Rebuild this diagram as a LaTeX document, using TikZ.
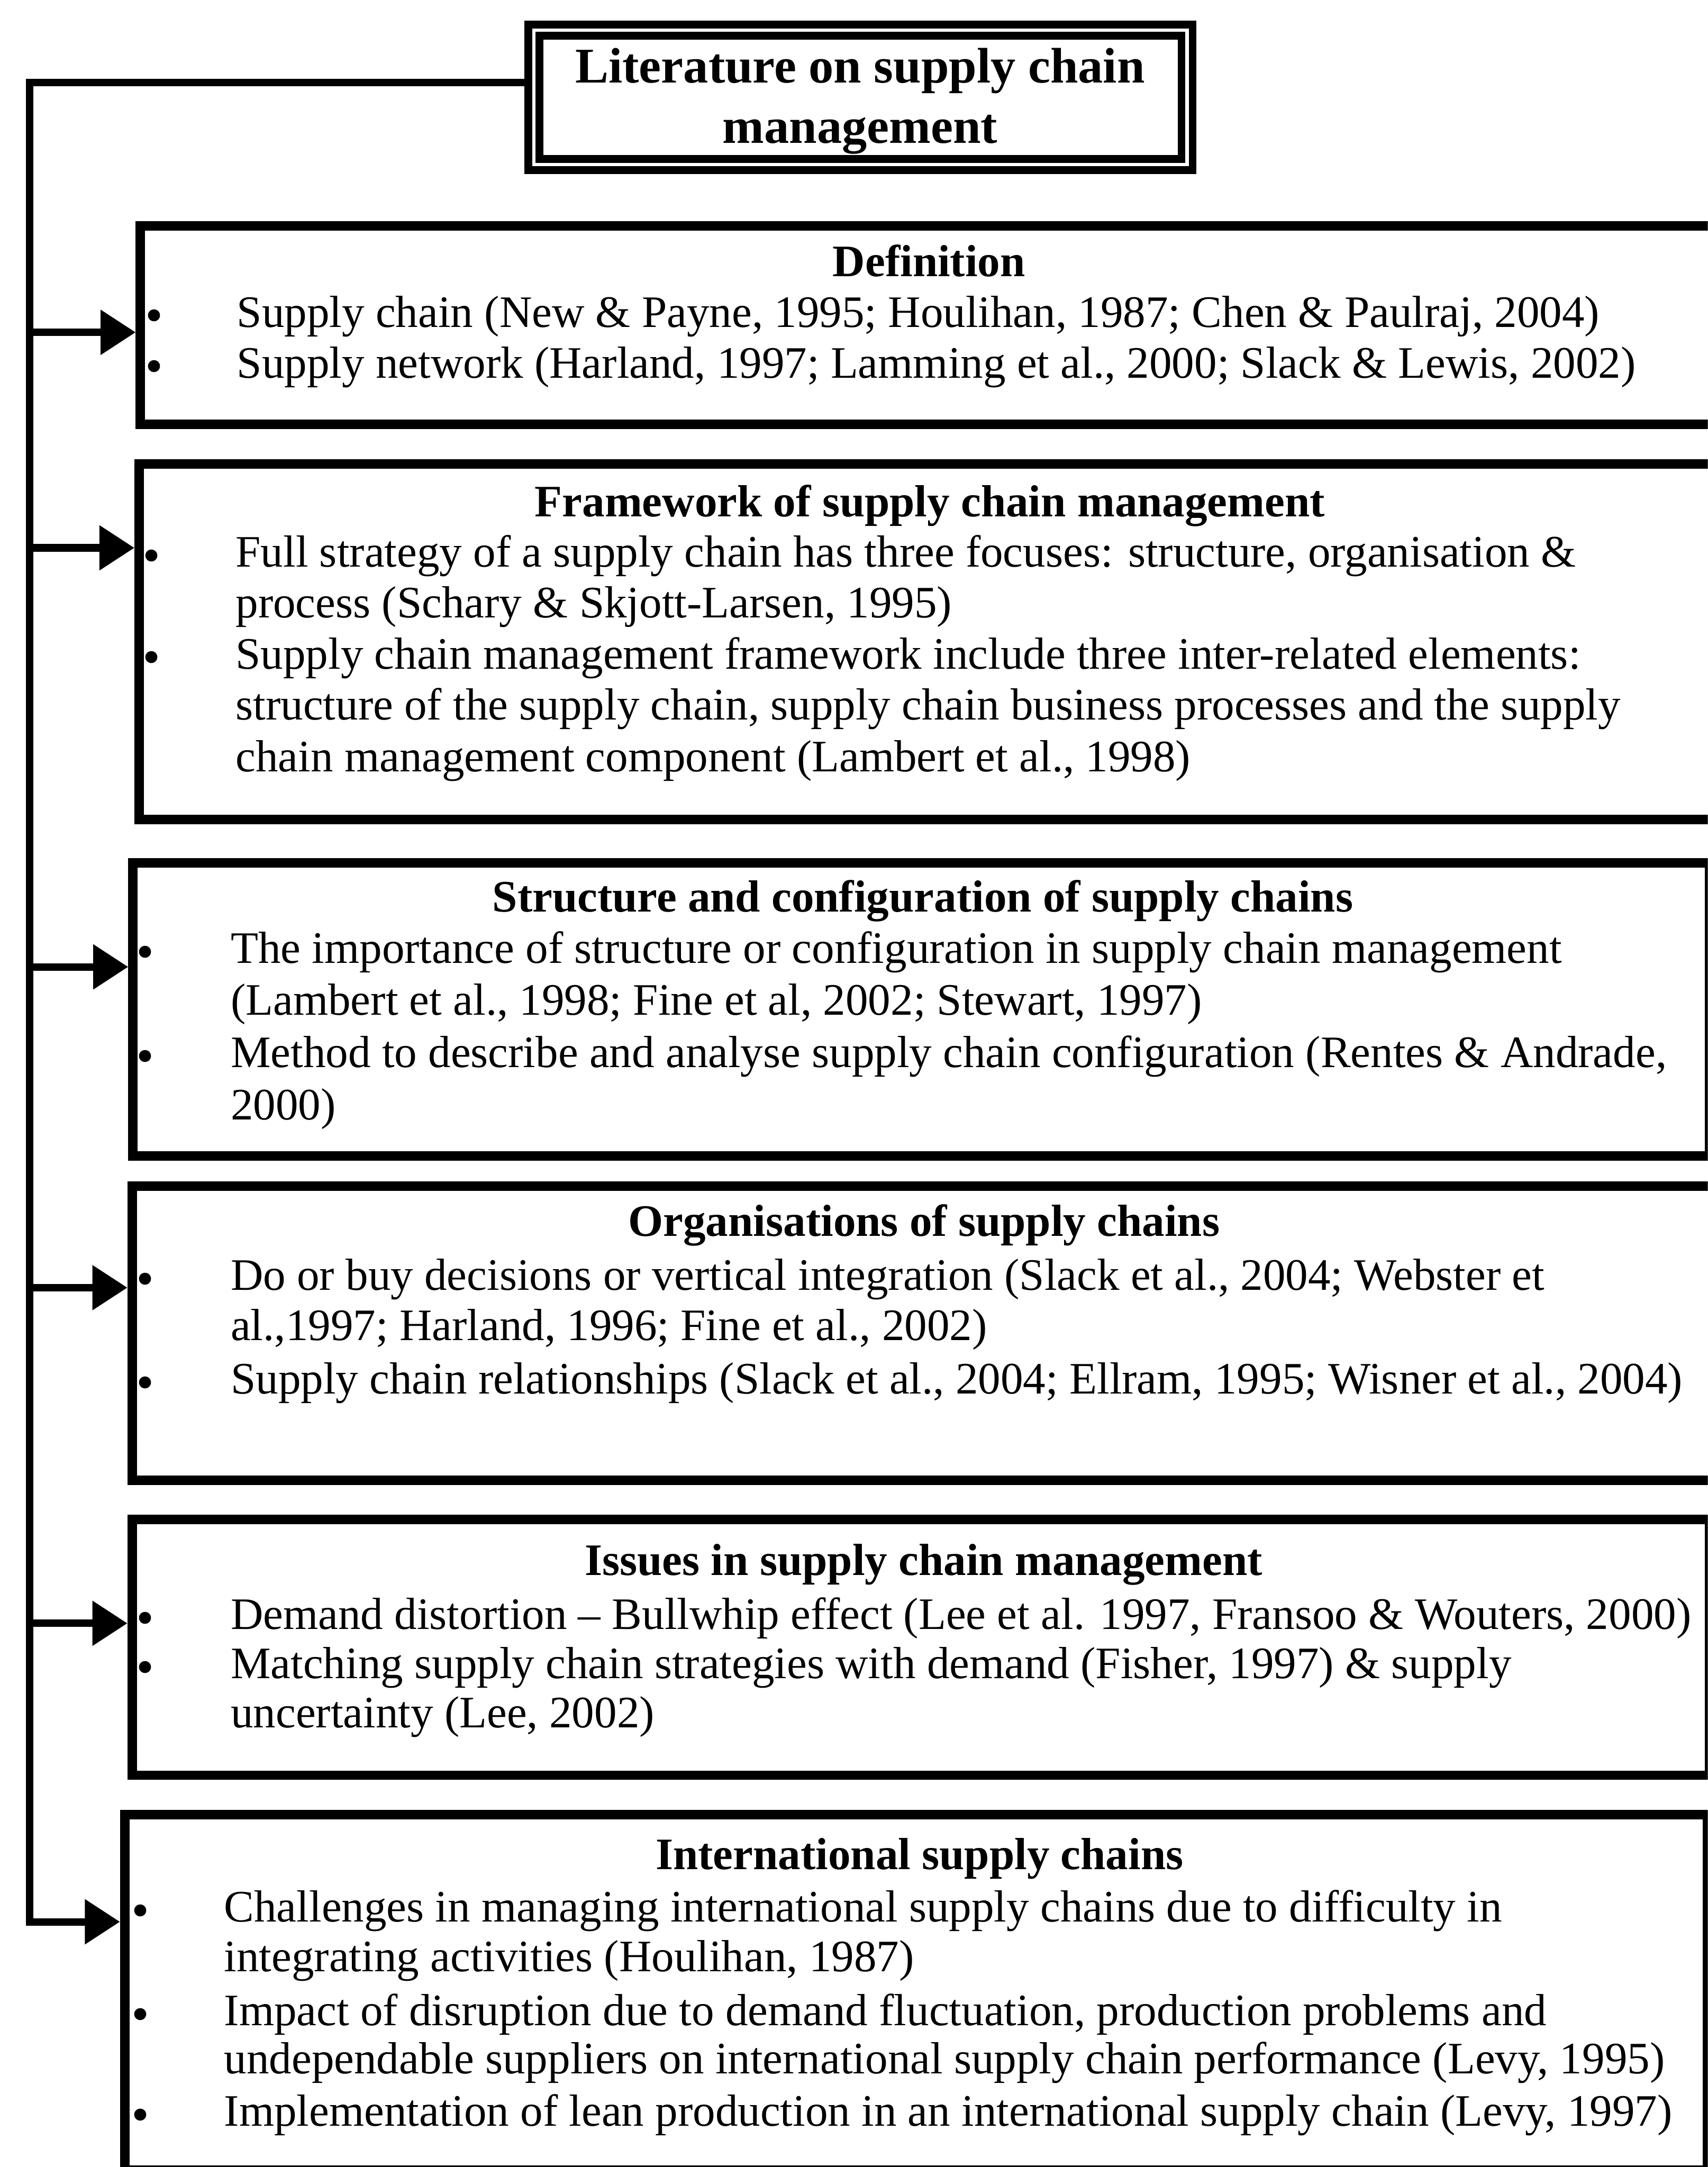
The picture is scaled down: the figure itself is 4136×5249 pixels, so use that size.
\documentclass[tikz,border=0pt]{standalone}
\usepackage{fontspec}
\setmainfont{Liberation Serif}
\newfontfamily\bulletfont{DejaVu Sans}
\usetikzlibrary{arrows.meta}

\begin{document}
\begin{tikzpicture}[x=0.1pt,y=-0.1pt,
  panel/.style={draw=black, line width=2.3pt, rectangle, inner sep=0pt, fill=none},
  titlebox/.style={draw=black, line width=1.9pt, double=white, double distance=0.8pt, rectangle, inner sep=0pt},
  titletxt/.style={font=\bfseries\fontsize{12.1}{14.7}\selectfont, inner sep=0pt, anchor=base},
  headtxt/.style={font=\bfseries\fontsize{10.9}{12.5}\selectfont, inner sep=0pt, anchor=base},
  bodytxt/.style={font=\fontsize{10.9}{12.5}\selectfont, inner sep=0pt, anchor=base west},
  bul/.style={font=\bulletfont\fontsize{10}{10}\selectfont, inner sep=0pt, anchor=base, yshift=-1pt},
  link/.style={draw=black, line width=1.8pt, line join=miter},
  arr/.style={link, -{Triangle[length=8.5pt,width=10.5pt]}}
]
\useasboundingbox (0,0) rectangle (4136,5249);
\clip (0,0) rectangle (4136,5249);

% heading frame
\node[titlebox, minimum width=158.25pt, minimum height=32.55pt] (title) at (2083.75,235.75) {};
\node[titletxt] (title1) at (2083,200) {Literature on supply chain};
\node[titletxt] (title2) at (2083,347) {management};

% section panels
\node[panel, minimum width=382pt,   minimum height=48.1pt] (b1) at (2250,787.5) {};
\node[panel, minimum width=382.3pt, minimum height=86.1pt] (b2) at (2248.5,1554.5) {};
\node[panel, minimum width=381.8pt, minimum height=71pt]   (b3) at (2231,2445) {};
\node[panel, minimum width=384pt,   minimum height=71.2pt] (b4) at (2240,3229) {};
\node[panel, minimum width=382pt,   minimum height=62pt]   (b5) at (2230,3990) {};
\node[panel, minimum width=383.3pt, minimum height=86.1pt] (b6) at (2218.5,4825.5) {};

% trunk and branch points
\coordinate (tj) at (72,200);
\coordinate (j1) at (72,805);
\coordinate (j2) at (72,1327);
\coordinate (j3) at (72,2342);
\coordinate (j4) at (72,3119);
\coordinate (j5) at (72,3932);
\coordinate (j6) at (72,4655);

\draw[arr] (title.west |- tj) -- (tj) -- (j6) -- (j6 -| b6.west);
\draw[arr] (j1) -- (j1 -| b1.west);
\draw[arr] (j2) -- (j2 -| b2.west);
\draw[arr] (j3) -- (j3 -| b3.west);
\draw[arr] (j4) -- (j4 -| b4.west);
\draw[arr] (j5) -- (j5 -| b5.west);

% Definition
\node[headtxt] (h1) at (2250,670) {Definition};
\node[bul] (p11) at (374,792) {•};
\node[bodytxt] (l11) at (572,792) {Supply chain (New \& Payne, 1995; Houlihan, 1987; Chen \& Paulraj, 2004)};
\node[bul] (p12) at (374,915) {•};
\node[bodytxt] (l12) at (572,915) {Supply network (Harland, 1997; Lamming et al., 2000; Slack \& Lewis, 2002)};

% Framework
\node[headtxt] (h2) at (2252,1252) {Framework of supply chain management};
\node[bul] (p21) at (367,1373) {•};
\node[bodytxt] (l21) at (569,1373) {Full strategy of a supply chain has three focuses: structure, organisation \&};
\node[bodytxt] (l22) at (569,1496) {process (Schary \& Skjott-Larsen, 1995)};
\node[bul] (p23) at (367,1620) {•};
\node[bodytxt] (l23) at (569,1620) {Supply chain management framework include three inter-related elements:};
\node[bodytxt] (l24) at (569,1743) {structure of the supply chain, supply chain business processes and the supply};
\node[bodytxt] (l25) at (569,1869) {chain management component (Lambert et al., 1998)};

% Structure and configuration
\node[headtxt] (h3) at (2235,2208) {Structure and configuration of supply chains};
\node[bul] (p31) at (352,2333) {•};
\node[bodytxt] (l31) at (557,2333) {The importance of structure or configuration in supply chain management};
\node[bodytxt] (l32) at (557,2458) {(Lambert et al., 1998; Fine et al, 2002; Stewart, 1997)};
\node[bul] (p33) at (352,2585) {•};
\node[bodytxt] (l33) at (557,2585) {Method to describe and analyse supply chain configuration (Rentes \& Andrade,};
\node[bodytxt] (l34) at (557,2712) {2000)};

% Organisations
\node[headtxt] (h4) at (2238,2994) {Organisations of supply chains};
\node[bul] (p41) at (352,3125) {•};
\node[bodytxt] (l41) at (557,3125) {Do or buy decisions or vertical integration (Slack et al., 2004; Webster et};
\node[bodytxt] (l42) at (557,3247) {al.,1997; Harland, 1996; Fine et al., 2002)};
\node[bul] (p43) at (352,3376) {•};
\node[bodytxt] (l43) at (557,3376) {Supply chain relationships (Slack et al., 2004; Ellram, 1995; Wisner et al., 2004)};

% Issues
\node[headtxt] (h5) at (2237,3816) {Issues in supply chain management};
\node[bul] (p51) at (352,3946) {•};
\node[bodytxt] (l51) at (557,3946) {Demand distortion – Bullwhip effect (Lee et al. 1997, Fransoo \& Wouters, 2000)};
\node[bul] (p52) at (352,4066) {•};
\node[bodytxt] (l52) at (557,4066) {Matching supply chain strategies with demand (Fisher, 1997) \& supply};
\node[bodytxt] (l53) at (557,4185) {uncertainty (Lee, 2002)};

% International
\node[headtxt] (h6) at (2227,4528) {International supply chains};
\node[bul] (p61) at (340,4655) {•};
\node[bodytxt] (l61) at (541,4655) {Challenges in managing international supply chains due to difficulty in};
\node[bodytxt] (l62) at (541,4775) {integrating activities (Houlihan, 1987)};
\node[bul] (p63) at (340,4906) {•};
\node[bodytxt] (l63) at (541,4906) {Impact of disruption due to demand fluctuation, production problems and};
\node[bodytxt] (l64) at (541,5023) {undependable suppliers on international supply chain performance (Levy, 1995)};
\node[bul] (p65) at (340,5150) {•};
\node[bodytxt] (l65) at (541,5150) {Implementation of lean production in an international supply chain (Levy, 1997)};
\end{tikzpicture}
\end{document}
